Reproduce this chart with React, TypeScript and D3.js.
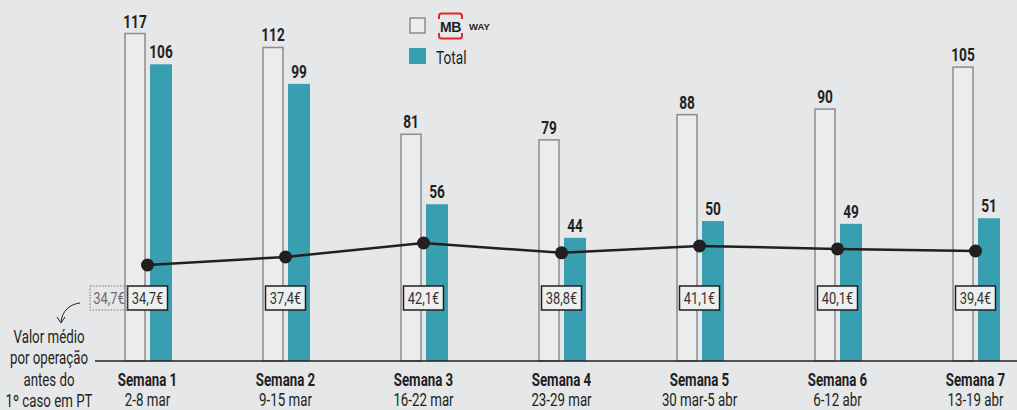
import React from "react";
import * as d3 from "d3";

const weeks = ["Semana 1", "Semana 2", "Semana 3", "Semana 4", "Semana 5", "Semana 6", "Semana 7"];
const dates = ["2-8 mar", "9-15 mar", "16-22 mar", "23-29 mar", "30 mar-5 abr", "6-12 abr", "13-19 abr"];
const mbway = [117, 112, 81, 79, 88, 90, 105];
const total = [106, 99, 56, 44, 50, 49, 51];
const avgValue = [34.7, 37.4, 42.1, 38.8, 41.1, 40.1, 39.4];
const avgLabels = ["34,7€", "37,4€", "42,1€", "38,8€", "41,1€", "40,1€", "39,4€"];
const preCovidLabel = "34,7€";
const noteLines = ["Valor médio", "por operação", "antes do", "1º caso em PT"];

const W = 1017;
const H = 410;
const BG = "#e6e7e9";
const TEAL = "#379fb0";
const DARK = "#231f20";
const FONT = "Roboto, 'Liberation Sans', sans-serif";
const SX = 0.76;

function T(props: {
  x: number;
  y: number;
  children: React.ReactNode;
  size: number;
  bold?: boolean;
  anchor?: string;
  fill?: string;
  sx?: number;
}) {
  const { x, y, children, size, bold, anchor = "middle", fill = DARK, sx = SX } = props;
  return (
    <g transform={`translate(${x},${y}) scale(${sx},1)`}>
      <text x={0} y={0} textAnchor={anchor} fontSize={size} fontWeight={bold ? "bold" : "normal"} fill={fill}>
        {children}
      </text>
    </g>
  );
}

export default function App() {
  const x = d3.scalePoint<string>().domain(weeks).range([147.5, 975.5]);
  const y = d3.scaleLinear().domain([0, 117]).range([361, 33.5]);
  const yl = d3.scaleLinear().domain([34.7, 42.1]).range([265, 243]);
  const line = d3
    .line<number>()
    .x((_, i) => x(weeks[i]) as number)
    .y((d) => yl(d));

  const hollowW = 20;
  const tealW = 22;

  return (
    <div style={{ position: "absolute", left: 0, top: 0 }}>
      <svg width={W} height={H} style={{ display: "block", background: BG, fontFamily: FONT }}>
        <rect x={0} y={0} width={W} height={H} fill={BG} />
        {weeks.map((w, i) => {
          const cx = x(w) as number;
          const hx = cx - 22.5;
          const tx = cx + 2.5;
          return (
            <g key={w}>
              <rect
                x={hx}
                y={y(mbway[i])}
                width={hollowW}
                height={y(0) - y(mbway[i])}
                fill="#ebecee"
                stroke="#8c8c8c"
                strokeWidth={1.5}
              />
              <rect x={tx} y={y(total[i])} width={tealW} height={y(0) - y(total[i])} fill={TEAL} />
              <T x={hx + hollowW / 2} y={y(mbway[i]) - 6} size={19} bold sx={0.72}>
                {mbway[i]}
              </T>
              <T x={tx + tealW / 2} y={y(total[i]) - 6} size={19} bold sx={0.72}>
                {total[i]}
              </T>
            </g>
          );
        })}
        <line x1={95} x2={W} y1={y(0)} y2={y(0)} stroke={DARK} strokeWidth={1.5} />
        <path d={line(avgValue) || ""} fill="none" stroke={DARK} strokeWidth={2.5} />
        {avgValue.map((v, i) => (
          <circle key={i} cx={x(weeks[i]) as number} cy={yl(v)} r={6.5} fill={DARK} />
        ))}
        {avgLabels.map((l, i) => {
          const cx = x(weeks[i]) as number;
          return (
            <g key={l + i}>
              <rect x={cx - 20} y={286} width={40} height={24} fill="#eeeff0" stroke={DARK} strokeWidth={1.5} />
              <T x={cx} y={304} size={17} fill="#333">
                {l}
              </T>
            </g>
          );
        })}
        <rect x={90} y={286} width={38} height={24} fill="none" stroke="#777" strokeWidth={1} strokeDasharray="1.5,1.5" />
        <T x={109} y={304} size={17} fill="#6a6a6a">
          {preCovidLabel}
        </T>
        <path d="M80,303 C70,304 62,311 61,322" fill="none" stroke={DARK} strokeWidth={1} />
        <path d="M57,317 L61,323 L65,317" fill="none" stroke={DARK} strokeWidth={1} />
        {noteLines.map((t, i) => (
          <T key={t} x={49} y={343 + i * 21.3} size={17.5}>
            {t}
          </T>
        ))}
        {weeks.map((w, i) => (
          <g key={"lab" + w}>
            <T x={x(w) as number} y={386} size={17.5} bold>
              {w}
            </T>
            <T x={x(w) as number} y={406} size={17.5}>
              {dates[i]}
            </T>
          </g>
        ))}
        {/* legend */}
        <rect x={410} y={18} width={15} height={15} fill="#ebecee" stroke="#8c8c8c" strokeWidth={1.5} />
        <path d="M439,19 v-3 q0,-2.5 2.5,-2.5 h18 q2.5,0 2.5,2.5 v3" fill="none" stroke="#e0262b" strokeWidth={2} />
        <path d="M439,33 v3 q0,2.5 2.5,2.5 h18 q2.5,0 2.5,-2.5 v-3" fill="none" stroke="#e0262b" strokeWidth={2} />
        <text x={450.5} y={32} textAnchor="middle" fontSize={14} fontWeight="bold" fill={DARK} fontFamily="'Liberation Sans', Arial, sans-serif" letterSpacing={-0.5}>
          MB
        </text>
        <text x={469} y={30} fontSize={9.5} fontWeight="bold" fill={DARK} fontFamily="'Liberation Sans', Arial, sans-serif">
          WAY
        </text>
        <rect x={409} y={48} width={17} height={16} fill={TEAL} />
        <T x={436} y={64} size={18} anchor="start">
          Total
        </T>
      </svg>
    </div>
  );
}
